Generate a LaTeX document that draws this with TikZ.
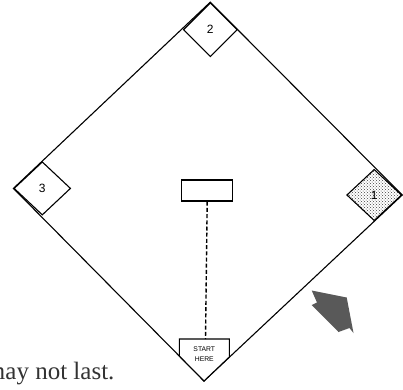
\documentclass[tikz,border=0pt]{standalone}
\usepackage{fontspec}
\setmainfont{Liberation Serif}
\setsansfont{Liberation Sans}
\usetikzlibrary{shapes.geometric,patterns}
\begin{document}
\begin{tikzpicture}[x=1pt,y=-1pt,line width=1.1pt,
  base/.style={draw,diamond,fill=white,inner sep=0pt,font=\sffamily\fontsize{12}{14}\selectfont},
  rubber/.style={draw,rectangle,line width=1.4pt,minimum width=51pt,minimum height=21pt,inner sep=0pt}]
\useasboundingbox (0,0) rectangle (403,389);
\clip (0,0) rectangle (403,389);
\coordinate (tip) at (204,381);
\node[base,minimum width=54pt,minimum height=54pt] (second) at (210.3,29.7) {2};
\node[base,minimum width=56.7pt,minimum height=53.3pt] (third) at (42.3,188.4) {3};
\node[base,minimum width=55pt,minimum height=51.4pt,pattern=crosshatch dots,pattern color=black!75] (first) at (374.2,195) {1};
\draw (second.north) -- (third.west) -- (tip) -- (first.east) -- cycle;
\draw[fill=white] (179.3,339) -- (229.3,339) -- (229.3,357) -- (tip) -- (179.3,356) -- cycle;
\coordinate (plate) at (205.5,339);
\node[align=center,font=\sffamily\fontsize{6.8}{10}\selectfont,inner sep=0pt] (home) at (204.3,354.3) {START\\HERE};
\node[rubber] (pitch) at (207.2,190.5) {};
\draw[line width=1.4pt,dash pattern=on 4pt off 2.2pt] (pitch.south) -- (plate);
\fill[black!65] (311.7,290.5) -- (346.7,297.5) -- (353.5,333) -- (349.5,328) -- (338.5,332) -- (311.7,305) -- (317,302.5) -- cycle;
\node[anchor=base east,inner sep=0pt,font=\fontsize{25}{30}\selectfont,text=black!80] (caption) at (115,379.3) {may not last.};
\end{tikzpicture}
\end{document}
